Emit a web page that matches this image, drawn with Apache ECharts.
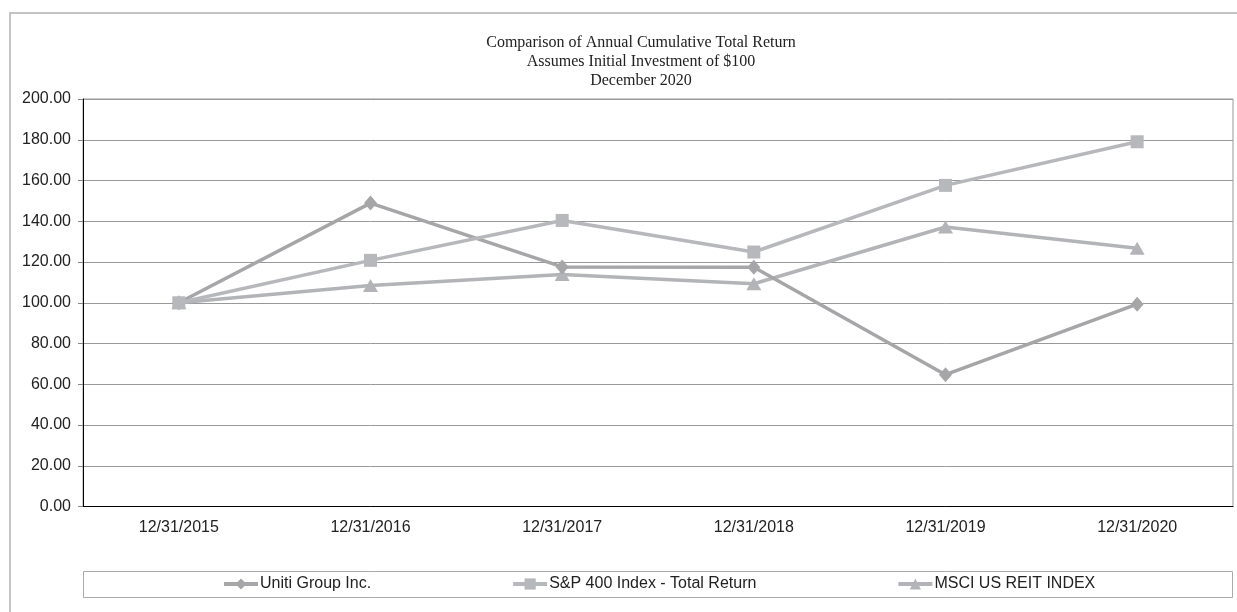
<!DOCTYPE html>
<html>
<head>
<meta charset="utf-8">
<script src="https://cdn.jsdelivr.net/npm/echarts@6/dist/echarts.min.js"></script>
<style>
html,body{margin:0;padding:0;background:#fff;}
#chart{width:1237px;height:612px;}
</style>
</head>
<body>
<div id="chart"></div>
<script>
const categories = ['12/31/2015','12/31/2016','12/31/2017','12/31/2018','12/31/2019','12/31/2020'];
const uniti = [100, 148.9, 117.6, 117.4, 64.7, 99.3];
const sp400 = [100, 120.8, 140.4, 124.9, 157.6, 179.0];
const msci = [100, 108.5, 113.9, 109.3, 137.2, 126.8];
const seriesNames = ['Uniti Group Inc.', 'S&P 400 Index - Total Return', 'MSCI US REIT INDEX'];
const titleLines = ['Comparison of Annual Cumulative Total Return', 'Assumes Initial Investment of $100', 'December 2020'];

const chart = echarts.init(document.getElementById('chart'), null, {renderer:'canvas'});
const font = 'Arial, "Liberation Sans", sans-serif';
const option = {
  animation: false,
  backgroundColor: '#fff',
  title: {
    text: titleLines.join('\n'),
    left: 641, top: 33, padding: 0,
    textAlign: 'center',
    textStyle: {fontFamily: '"Times New Roman", "Liberation Serif", serif', fontWeight: 'normal', fontSize: 16, lineHeight: 19, color: '#222'}
  },
  graphic: [
    {type: 'rect', shape: {x: 10, y: 13, width: 1400, height: 800}, style: {fill: 'none', stroke: '#c4c4c4', lineWidth: 2}, silent: true, z: -10},
    {type: 'rect', shape: {x: 83.5, y: 571.5, width: 1149, height: 26}, style: {fill: 'none', stroke: '#aaa', lineWidth: 1}, silent: true, z: -10}
  ],
  legend: {
    left: 222, top: 576, padding: 0,
    itemWidth: 34, itemHeight: 14, itemGap: 140,
    lineStyle: {width: 4},
    textStyle: {fontFamily: font, fontSize: 16, color: '#222', padding: [0,0,0,-3]},
    data: seriesNames
  },
  grid: {left: 83, right: 4, top: 99, bottom: 105.5, show: true, borderColor: '#999', borderWidth: 1},
  xAxis: {
    type: 'category', data: categories, boundaryGap: true,
    axisLine: {lineStyle: {color: '#000', width: 1}},
    axisTick: {inside: true, length: 3, alignWithLabel: true, lineStyle: {color: '#888'}},
    axisLabel: {fontFamily: font, fontSize: 16, color: '#222', margin: 13},
    splitLine: {show: false}
  },
  yAxis: {
    type: 'value', min: 0, max: 200, interval: 20,
    axisLine: {show: true, lineStyle: {color: '#000', width: 1}},
    axisTick: {show: true, length: 5, lineStyle: {color: '#888'}},
    axisLabel: {fontFamily: font, fontSize: 16, color: '#222', margin: 12, formatter: v => v.toFixed(2)},
    splitLine: {lineStyle: {color: '#999', width: 1}}
  },
  series: [
    {name: seriesNames[0], type: 'line', data: uniti, symbol: 'diamond', symbolSize: [13, 15],
     lineStyle: {color: '#a6a6a9', width: 3.5}, itemStyle: {color: '#a6a6a9'}, z: 3},
    {name: seriesNames[1], type: 'line', data: sp400, symbol: 'rect', symbolSize: 13,
     lineStyle: {color: '#b7b8bb', width: 3.5}, itemStyle: {color: '#b7b8bb'}, z: 4},
    {name: seriesNames[2], type: 'line', data: msci, symbol: 'triangle', symbolSize: [15, 13],
     lineStyle: {color: '#b3b4b7', width: 3.5}, itemStyle: {color: '#b3b4b7'}, z: 2}
  ]
};
chart.setOption(option);
</script>
</body>
</html>
